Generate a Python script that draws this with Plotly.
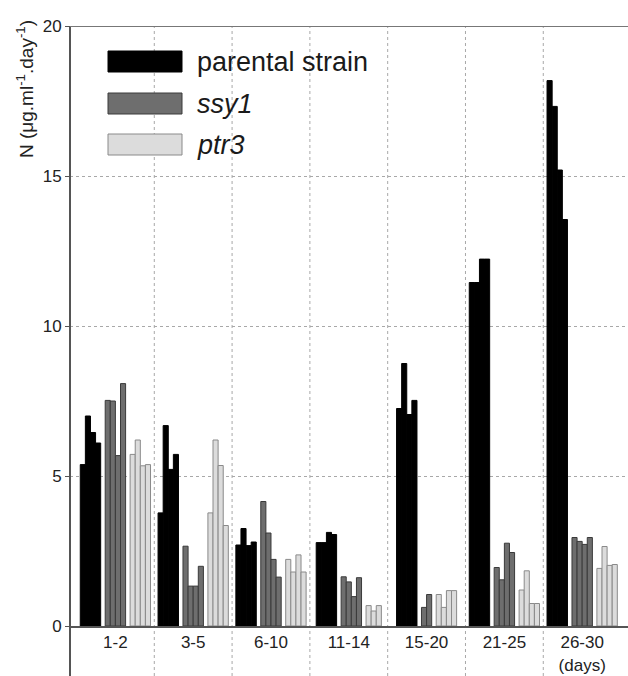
import plotly.graph_objects as go

# ---------------- data ----------------
categories = ["1-2", "3-5", "6-10", "11-14", "15-20", "21-25", "26-30<br>(days)"]
strain_names = ["parental strain", "<i>ssy1</i>", "<i>ptr3</i>"]
y_ticks = [0, 5, 10, 15, 20]

parental = [
    [5.38, 7.0, 6.45, 6.1],
    [3.77, 6.68, 5.22, 5.72],
    [2.7, 3.25, 2.68, 2.8],
    [2.78, 2.78, 3.12, 3.05],
    [7.25, 8.75, 7.05, 7.52],
    [11.45, 11.45, 12.23, 12.23],
    [18.18, 17.32, 15.2, 13.55],
]
ssy1 = [
    [7.52, 7.5, 5.68, 8.08],
    [2.66, 1.33, 1.33, 1.99],
    [4.15, 3.1, 2.22, 1.63],
    [1.64, 1.47, 0.98, 1.61],
    [0.62, 1.05],
    [1.95, 1.54, 2.76, 2.45],
    [2.95, 2.82, 2.72, 2.95],
]
ptr3 = [
    [5.72, 6.2, 5.34, 5.38],
    [3.77, 6.2, 5.35, 3.35],
    [2.22, 1.8, 2.37, 1.8],
    [0.68, 0.5, 0.68],
    [1.05, 0.62, 1.18, 1.18],
    [1.2, 1.84, 0.75, 0.75],
    [1.92, 2.65, 2.02, 2.05],
]

# ---------------- styling / layout ----------------
series = [parental, ssy1, ptr3]
fills = ["#000000", "#6e6e6e", "#dcdcdc"]
edges = ["#000000", "#3a3a3a", "#8a8a8a"]
FONT = "Liberation Sans, Arial, sans-serif"
W, H = 628, 676
ML, MR, MT, MB = 70, 0, 26, 50
PW, PH = W - ML - MR, H - MT - MB

BW = 0.0656   # bar width in group units
GAP = 0.058   # gap between strains

xs = [[] for _ in series]
ys = [[] for _ in series]
for g in range(len(categories)):
    counts = [len(s[g]) for s in series]
    total = sum(counts) * BW + GAP * (len(series) - 1)
    left = g + 0.5 - total / 2
    for si, s in enumerate(series):
        for v in s[g]:
            xs[si].append(left + BW / 2)
            ys[si].append(v)
            left += BW
        left += GAP

fig = go.Figure()
for si in range(len(series)):
    fig.add_trace(go.Bar(
        x=xs[si], y=ys[si], width=BW,
        marker=dict(color=fills[si], line=dict(color=edges[si], width=1)),
        showlegend=False, name=strain_names[si],
    ))


def px(x):
    return (x - ML) / PW


def py(y):
    return (H - MB - y) / PH


shapes = []
# vertical dotted gridlines at group boundaries, extending below the axis
for k in range(1, len(categories)):
    shapes.append(dict(type="line", xref="x", yref="paper", x0=k, x1=k,
                       y0=py(H), y1=1, line=dict(color="#a8a8a8", width=1, dash="dot"),
                       layer="below"))
# left axis line extending to the bottom
shapes.append(dict(type="line", xref="paper", yref="paper", x0=0, x1=0,
                   y0=py(H), y1=1, line=dict(color="#555555", width=2)))
# top border
shapes.append(dict(type="line", xref="paper", yref="y", x0=0, x1=1,
                   y0=20, y1=20, line=dict(color="#777777", width=2)))

# manual legend
leg_tops = [51, 93, 134]
annotations = []
for si, top in enumerate(leg_tops):
    shapes.append(dict(type="rect", xref="paper", yref="paper",
                       x0=px(108), x1=px(182), y0=py(top + 21), y1=py(top),
                       fillcolor=fills[si], line=dict(color=edges[si], width=1)))
    annotations.append(dict(xref="paper", yref="paper", x=px(195), y=py(top + 11),
                            xanchor="left", yanchor="middle", showarrow=False,
                            text=strain_names[si],
                            font=dict(family=FONT, size=27, color="#1a1a1a")))

annotations.append(dict(xref="paper", yref="paper", x=px(25), y=py(89),
                        xanchor="center", yanchor="middle", showarrow=False,
                        textangle=-90,
                        text="N (\u03bcg.ml<sup>-1</sup>.day<sup>-1</sup>)",
                        font=dict(family=FONT, size=19, color="#222222")))

fig.update_layout(
    width=W, height=H,
    margin=dict(l=ML, r=MR, t=MT, b=MB, autoexpand=False),
    plot_bgcolor="white", paper_bgcolor="white",
    barmode="overlay",
    shapes=shapes, annotations=annotations,
    xaxis=dict(range=[-0.0835, 7.089], tickvals=[i + 0.5 for i in range(len(categories))],
               ticktext=categories, showgrid=False, zeroline=False, automargin=False,
               showline=True, linecolor="#555555", linewidth=2, ticks="",
               tickfont=dict(family=FONT, size=17, color="#222222")),
    yaxis=dict(range=[0, 20], tickvals=y_ticks, ticktext=[str(t) for t in y_ticks],
               showgrid=True, gridcolor="#a8a8a8", griddash="dot", gridwidth=1,
               zeroline=False, showline=False, ticks="outside", ticklen=4,
               tickcolor="#555555", tickwidth=1, automargin=False,
               tickfont=dict(family=FONT, size=17, color="#222222")),
)

fig.write_html("out.html", config={"displayModeBar": False},
               post_script="document.body.style.margin='0px';document.body.style.overflow='hidden';")
